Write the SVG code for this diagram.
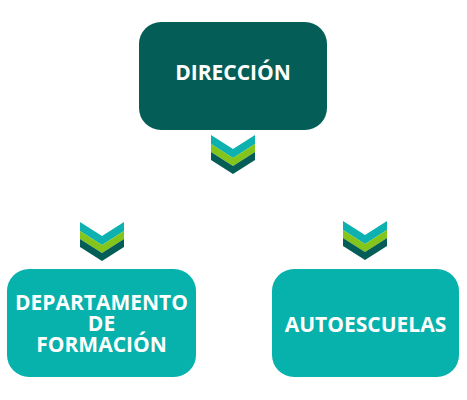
<svg xmlns="http://www.w3.org/2000/svg" width="467" height="400" viewBox="0 0 467 400">
<style>
.t{font-family:"Open Sans","Liberation Sans",sans-serif;font-weight:bold;font-size:21px;fill:#ffffff;text-anchor:middle}
.c1{fill:#0db1b0}.c2{fill:#84c51b}.c3{fill:#045e57}
</style>
<defs>
<g id="chev">
<polygon class="c1" points="0,0 22,14 44,0 44,9 22,23 0,9"/>
<polygon class="c2" points="0,9 22,23 44,9 44,17 22,31 0,17"/>
<polygon class="c3" points="0,17 22,31 44,17 44,25 22,39 0,25"/>
</g>
</defs>
<rect width="467" height="400" fill="#ffffff"/>
<g id="direccion">
<rect x="139" y="22" width="188" height="108" rx="22" fill="#045e57"/>
<text class="t" x="233" y="80">DIRECCIÓN</text>
</g>
<g id="departamento">
<rect x="7" y="269" width="189" height="108" rx="22" fill="#07b1ac"/>
<text class="t" x="101.5" y="310">DEPARTAMENTO<tspan x="101.5" dy="21">DE</tspan><tspan x="101.5" dy="21">FORMACIÓN</tspan></text>
</g>
<g id="autoescuelas">
<rect x="272" y="269" width="187" height="108" rx="22" fill="#07b1ac"/>
<text class="t" x="365.5" y="332">AUTOESCUELAS</text>
</g>
<g id="connectors">
<use href="#chev" x="211" y="135"/>
<use href="#chev" x="80" y="222"/>
<use href="#chev" x="343" y="221"/>
</g>
</svg>
